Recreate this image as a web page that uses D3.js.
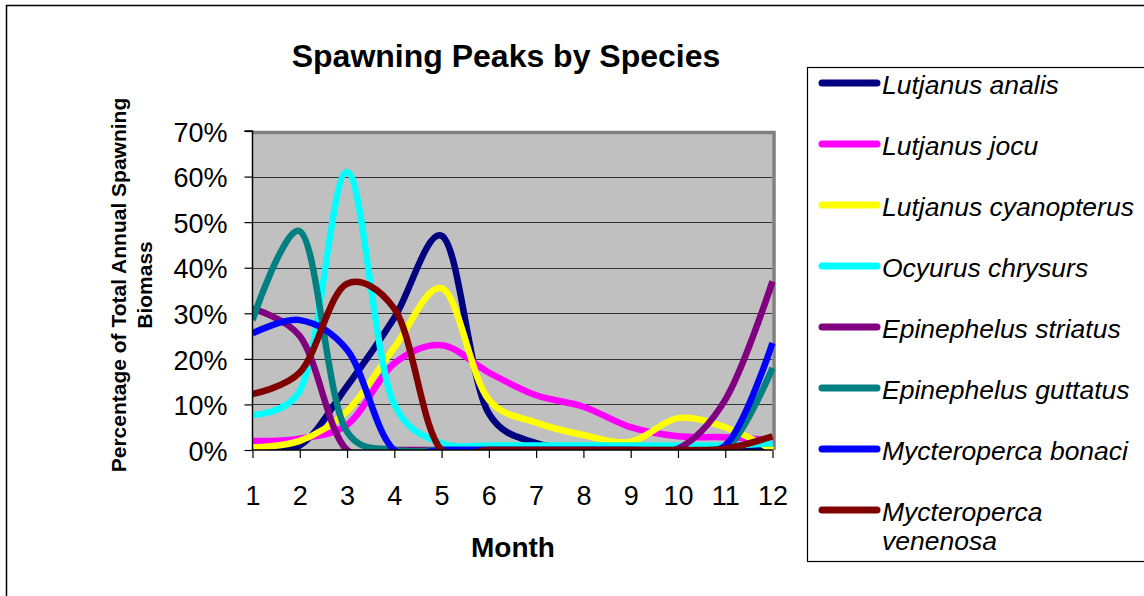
<!DOCTYPE html>
<html>
<head>
<meta charset="utf-8">
<script src="https://cdn.jsdelivr.net/npm/d3@7"></script>
<style>
  body { margin: 0; background: #fff; }
  text { font-family: Arial, "Liberation Sans", sans-serif; }
</style>
</head>
<body>
<div id="chart"></div>
<script>
// months on the x axis
const months = [1, 2, 3, 4, 5, 6, 7, 8, 9, 10, 11, 12];
const yTicks = [0, 0.1, 0.2, 0.3, 0.4, 0.5, 0.6, 0.7];

// series values (fraction of annual spawning biomass)
const lutjanusAnalis      = [0, 0.01, 0.14, 0.29, 0.47, 0.08, 0.015, 0, 0, 0, 0, 0];
const lutjanusJocu        = [0.02, 0.025, 0.055, 0.19, 0.23, 0.17, 0.12, 0.095, 0.05, 0.03, 0.028, 0.022];
const lutjanusCyanopterus = [0.006, 0.02, 0.085, 0.225, 0.355, 0.11, 0.06, 0.033, 0.018, 0.07, 0.05, 0];
const ocyurusChrysurs     = [0.077, 0.13, 0.61, 0.10, 0.015, 0.01, 0.01, 0.01, 0.01, 0.01, 0.01, 0.015];
const epinephelusStriatus = [0.31, 0.25, 0, 0, 0, 0, 0, 0, 0, 0.003, 0.11, 0.37];
const epinephelusGuttatus = [0.285, 0.48, 0.04, 0, 0, 0, 0, 0, 0, 0, 0, 0.18];
const mycteropercaBonaci  = [0.256, 0.285, 0.22, 0, 0, 0, 0, 0, 0, 0, 0.01, 0.235];
const mycteropercaVenenosa = [0.123, 0.17, 0.365, 0.31, 0, 0, 0, 0, 0, 0, 0.003, 0.03];

const seriesNames = ['Lutjanus analis', 'Lutjanus jocu', 'Lutjanus cyanopterus', 'Ocyurus chrysurs',
  'Epinephelus striatus', 'Epinephelus guttatus', 'Mycteroperca bonaci', 'Mycteroperca venenosa'];
const seriesValues = [lutjanusAnalis, lutjanusJocu, lutjanusCyanopterus, ocyurusChrysurs,
  epinephelusStriatus, epinephelusGuttatus, mycteropercaBonaci, mycteropercaVenenosa];
const seriesColors = ['#000080', '#ff00ff', '#ffff00', '#00ffff', '#800080', '#008080', '#0000ff', '#800000'];

const W = 1144, H = 596;
const plot = {left: 252.5, right: 772.5, top: 131, bottom: 450};

const svg = d3.select('#chart').append('svg')
  .attr('width', W)
  .attr('height', H);

// outer chart border (runs off the right and bottom)
svg.append('rect')
  .attr('x', 6.5).attr('y', 5.5)
  .attr('width', W).attr('height', H)
  .attr('fill', '#fff')
  .attr('stroke', '#000')
  .attr('stroke-width', 1.5);

const x = d3.scaleLinear().domain([1, 12]).range([plot.left, plot.right]);
const y = d3.scaleLinear().domain([0, 0.7]).range([plot.bottom, plot.top]);

// plot area
svg.append('rect')
  .attr('x', plot.left).attr('y', plot.top)
  .attr('width', plot.right - plot.left).attr('height', plot.bottom - plot.top)
  .attr('fill', '#c0c0c0');

// gridlines
svg.append('g')
  .selectAll('line')
  .data(yTicks.slice(1, -1))
  .enter()
  .append('line')
    .attr('x1', plot.left).attr('x2', plot.right)
    .attr('y1', d => Math.round(y(d)) + 0.5)
    .attr('y2', d => Math.round(y(d)) + 0.5)
    .attr('stroke', '#333')
    .attr('stroke-width', 1);

// gray frame on top and right
svg.append('path')
  .attr('d', `M${plot.left},${plot.top + 1.5}H${plot.right + 1.5}V${plot.bottom}`)
  .attr('fill', 'none')
  .attr('stroke', '#808080')
  .attr('stroke-width', 3.5);

svg.append('clipPath').attr('id', 'clip')
  .append('rect')
    .attr('x', plot.left).attr('y', plot.top)
    .attr('width', plot.right - plot.left + 3).attr('height', plot.bottom - plot.top);

const line = d3.line()
  .x((d, i) => x(months[i]))
  .y(d => y(d))
  .curve(d3.curveCatmullRom.alpha(0.3));

svg.append('g')
  .attr('clip-path', 'url(#clip)')
  .selectAll('path')
  .data(seriesValues)
  .enter()
  .append('path')
    .attr('d', d => line(d))
    .attr('fill', 'none')
    .attr('stroke', (d, i) => seriesColors[i])
    .attr('stroke-width', 6.5)
    .attr('stroke-linejoin', 'round');

// axes
const yAxis = svg.append('g')
  .attr('transform', `translate(${plot.left},0)`)
  .call(d3.axisLeft(y).tickValues(yTicks).tickFormat(d3.format('.0%')).tickSize(8).tickPadding(17));
const xAxis = svg.append('g')
  .attr('transform', `translate(0,${plot.bottom})`)
  .call(d3.axisBottom(x).tickValues(months).tickFormat(d3.format('d')).tickSize(8).tickPadding(28));

[yAxis, xAxis].forEach(a => {
  a.select('.domain').attr('stroke', '#000').attr('stroke-width', 1.5);
  a.selectAll('.tick line').attr('stroke', '#000').attr('stroke-width', 1.2);
  a.selectAll('.tick text').attr('fill', '#000').style('font-family', 'Arial, "Liberation Sans", sans-serif');
});
yAxis.select('.domain').attr('d', `M-8,${plot.top}H0V${plot.bottom}`);
yAxis.selectAll('.tick text').style('font-size', '27px').attr('dy', '0.38em');
xAxis.select('.domain').attr('d', `M${plot.left},0H${plot.right}`);
xAxis.selectAll('.tick text').style('font-size', '27px');

// titles
svg.append('text')
  .attr('x', 506).attr('y', 67)
  .attr('text-anchor', 'middle')
  .style('font-size', '32px').style('font-weight', 'bold')
  .text('Spawning Peaks by Species');

svg.append('text')
  .attr('x', 513).attr('y', 557)
  .attr('text-anchor', 'middle')
  .style('font-size', '28px').style('font-weight', 'bold')
  .text('Month');

const yTitle = ['Percentage of Total Annual Spawning', 'Biomass'];
svg.append('g')
  .selectAll('text')
  .data(yTitle)
  .enter()
  .append('text')
    .attr('transform', (d, i) => `translate(${126 + i * 26},285) rotate(-90)`)
    .attr('text-anchor', 'middle')
    .style('font-size', '21px').style('font-weight', 'bold')
    .text(d => d);

// legend
const legend = svg.append('g');
legend.append('rect')
  .attr('x', 807.5).attr('y', 67.5)
  .attr('width', 400).attr('height', 494)
  .attr('fill', '#fff')
  .attr('stroke', '#000')
  .attr('stroke-width', 1.2);

const rowY = i => 83 + i * 61;
const items = legend.selectAll('g.item')
  .data(seriesNames)
  .enter()
  .append('g')
    .attr('class', 'item');
items.append('line')
  .attr('x1', 822).attr('x2', 877)
  .attr('y1', (d, i) => rowY(i)).attr('y2', (d, i) => rowY(i))
  .attr('stroke', (d, i) => seriesColors[i])
  .attr('stroke-width', 7)
  .attr('stroke-linecap', 'round');
items.append('text')
  .attr('x', 882)
  .attr('y', (d, i) => rowY(i) + 11)
  .style('font-size', '26.5px').style('font-style', 'italic')
  .each(function(d) {
    const words = d === 'Mycteroperca venenosa' ? ['Mycteroperca', 'venenosa'] : [d];
    d3.select(this).selectAll('tspan')
      .data(words)
      .enter()
      .append('tspan')
        .attr('x', 882)
        .attr('dy', (w, j) => j === 0 ? 0 : 29)
        .text(w => w);
  });
</script>
</body>
</html>
